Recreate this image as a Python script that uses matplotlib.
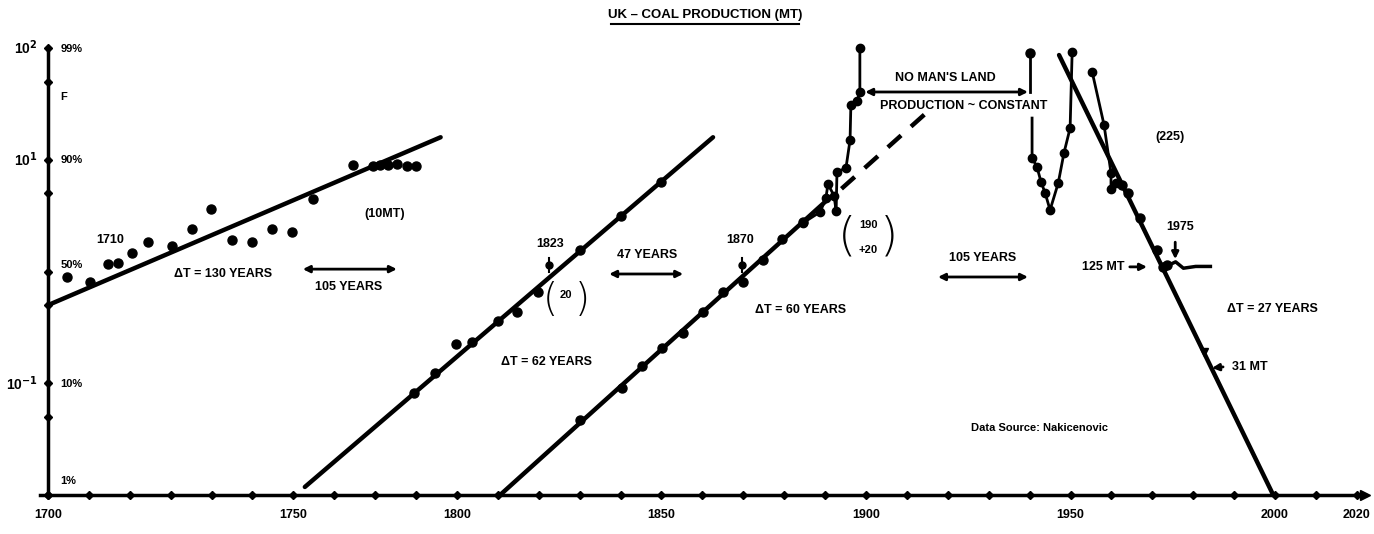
import matplotlib
matplotlib.use("Agg")
import matplotlib.pyplot as plt
from matplotlib.lines import Line2D
from matplotlib import font_manager

# ---------------------------------------------------------------
# UK coal production, Fisher-Pry plot: F/(1-F) on a log scale
# ---------------------------------------------------------------

# Phase 1: early growth (data points and fitted trend)
early_years = [1704.6, 1710.3, 1714.7, 1717.1, 1720.5, 1724.4, 1730.3, 1735.2,
               1739.9, 1745.0, 1749.9, 1754.8, 1759.7, 1764.8, 1774.6, 1779.5,
               1781.2, 1783.1, 1785.3, 1787.8, 1790.0]
early_vals = [0.90, 0.80, 1.16, 1.20, 1.45, 1.82, 1.68, 2.38, 3.60, 1.90, 1.82,
              2.38, 2.24, 4.43, 8.9, 8.75, 8.9, 8.9, 9.1, 8.75, 8.75]
early_fit_years = [1700.0, 1796.0]
early_fit_vals = [0.50, 15.9]

# Phase 2
second_years = [1789.5, 1794.6, 1799.8, 1803.7, 1810.0, 1814.7, 1819.8,
                1830.1, 1840.1, 1849.9]
second_vals = [0.081, 0.124, 0.226, 0.236, 0.364, 0.438, 0.662, 1.57, 3.11, 6.28]
second_fit_years = [1762.8, 1862.6]
second_fit_vals = [0.0118, 15.9]

# Phase 3
third_years = [1830.1, 1840.3, 1845.2, 1850.1, 1855.3, 1860.1, 1865.0,
               1869.9, 1874.8, 1879.5, 1884.6]
third_vals = [0.047, 0.091, 0.144, 0.208, 0.284, 0.438, 0.662, 0.813, 1.28,
              1.94, 2.75]
third_fit_years = [1810.0, 1890.0]
third_fit_vals = [0.0096, 4.2]
third_ext_years = [1894.0, 1914.4]
third_ext_vals = [5.5, 25.6]

# Turn of the century: production leaves the trend
peak_years = [1884.6, 1888.8, 1890.2, 1890.7, 1892.2, 1892.7, 1892.9, 1895.1,
              1896.1, 1896.3, 1897.8, 1898.5, 1898.5]
peak_vals = [2.72, 3.41, 4.55, 6.07, 4.74, 3.48, 7.77, 8.44, 15.0, 30.9, 33.6,
             40.4, 100.0]

# Plateau marker ("no man's land")
plateau_years = [1899.8, 1939.6]
plateau_val = 40.4

# 1940s swing
war_top_years = [1940.1, 1940.1]
war_top_vals = [40.4, 90.0]
war_years = [1940.6, 1940.6, 1941.8, 1942.8, 1943.8, 1945.0, 1947.0, 1948.4,
             1949.9, 1950.4]
war_vals = [23.6, 10.4, 8.61, 6.32, 5.04, 3.55, 6.19, 11.5, 19.2, 92.0]

# Decline phase
decline_fit_years = [1947.2, 1999.8]
decline_fit_vals = [86.5, 0.0096]
postwar_years = [1955.3, 1958.2, 1959.9, 1959.9, 1961.1]
postwar_vals = [61.0, 20.5, 7.61, 5.47, 6.19]
decline_years = [1962.6, 1964.1, 1967.0, 1971.1, 1972.6, 1973.6]
decline_vals = [5.94, 5.04, 3.01, 1.56, 1.10, 1.14]
recent_years = [1974.0, 1975.7, 1977.6, 1980.6, 1984.2]
recent_vals = [1.14, 1.22, 1.07, 1.11, 1.11]

# Axis tick labels
xtick_pos = [1700, 1760, 1800, 1850, 1900, 1950, 2000, 2020]
xtick_labels = ["1700", "1750", "1800", "1850", "1900", "1950", "2000", "2020"]
ytick_marks = [100, 50, 10, 5, 1, 0.5, 0.1, 0.05, 0.01]
ylabels_left = [(100, "10$^2$"), (10, "10$^1$"), (0.1, "10$^{-1}$")]
ylabels_right = [(98, "99%"), (36.4, "F"), (9.95, "90%"), (1.14, "50%"),
                 (0.0985, "10%"), (0.0133, "1%")]

# ---------------------------------------------------------------
names = {f.name for f in font_manager.fontManager.ttflist}
main_font = "DejaVu Sans"
for cand in ("Liberation Sans Narrow", "Liberation Sans"):
    if cand in names:
        main_font = cand
        break
plt.rcParams["font.family"] = [main_font, "DejaVu Sans"]
plt.rcParams["font.weight"] = "bold"
plt.rcParams["mathtext.default"] = "bf"

W, H = 1374, 534
fig = plt.figure(figsize=(W / 100, H / 100), dpi=100)
ax = fig.add_axes([39.8 / W, 39 / H, 1325.2 / W, 447 / H])
ax.set_yscale("log")
ax.set_xlim(1698, 2022)
ax.set_ylim(0.01, 100)

for s in ("top", "right"):
    ax.spines[s].set_visible(False)
ax.spines["left"].set_position(("data", 1700))
ax.spines["left"].set_linewidth(2.5)
ax.spines["bottom"].set_linewidth(2.5)
ax.tick_params(which="both", length=0, left=False, labelleft=False)
ax.yaxis.set_minor_locator(matplotlib.ticker.NullLocator())
ax.set_xticks(xtick_pos, xtick_labels)
ax.tick_params(axis="x", pad=10, labelsize=9)

# tick marks drawn as small diamonds on the axes
ax.plot(range(1700, 2021, 10), [0.01] * 33, "D", color="k", ms=4, clip_on=False)
ax.plot([1700] * len(ytick_marks), ytick_marks, "D", color="k", ms=4, clip_on=False)
ax.plot([2022], [0.01], ">", color="k", ms=7, clip_on=False)

for v, t in ylabels_left:
    ax.text(1697.5, v, t, ha="right", va="center", fontsize=10, clip_on=False)
for v, t in ylabels_right:
    ax.text(1703, v, t, ha="left", va="center", fontsize=8)

kw_fit = dict(color="k", lw=3.2, solid_capstyle="round")
kw_pts = dict(color="k", ls="none", marker="o", ms=6.5, clip_on=False)

# Phase 1
ax.plot(early_fit_years, early_fit_vals, **kw_fit)
ax.plot(early_years, early_vals, **kw_pts)
# Phase 2
ax.plot(second_fit_years, second_fit_vals, **kw_fit)
ax.plot(second_years, second_vals, **kw_pts)
# Phase 3
ax.plot(third_fit_years, third_fit_vals, **kw_fit)
ax.plot(third_ext_years, third_ext_vals, color="k", lw=3.2, ls=(0, (4, 3)))
ax.plot(third_years, third_vals, **kw_pts)
# Peak around 1900
ax.plot(peak_years, peak_vals, color="k", lw=2, marker="o", ms=6, clip_on=False)
# 1940s
ax.plot(war_top_years, war_top_vals, color="k", lw=2)
ax.plot([war_top_years[1]], [war_top_vals[1]], **kw_pts)
ax.plot(war_years, war_vals, color="k", lw=2, marker="o", ms=6,
        markevery=list(range(1, len(war_years))), clip_on=False)
# Decline
ax.plot(decline_fit_years, decline_fit_vals, **kw_fit)
ax.plot(postwar_years, postwar_vals, color="k", lw=2, marker="o", ms=6)
ax.plot(decline_years, decline_vals, **kw_pts)
ax.plot(recent_years, recent_vals, color="k", lw=2.5)

# marker stubs for 1823 and 1870
for yr in (1822.5, 1869.7):
    ax.plot([yr], [1.14], "o", color="k", ms=5)
    ax.plot([yr, yr], [1.0, 1.32], color="k", lw=1.5)

# small arrowhead on decline line
ax.plot([1982.6], [10 ** (1.937 - (1982.6 - 1947.2) * 3.955 / 52.6)], "v", color="k", ms=6)

def darrow(x0, x1, y):
    ax.annotate("", xy=(x1, y), xytext=(x0, y),
                arrowprops=dict(arrowstyle="<|-|>", color="k", lw=2,
                                mutation_scale=10, shrinkA=0, shrinkB=0))

def arrow(x0, y0, x1, y1):
    ax.annotate("", xy=(x1, y1), xytext=(x0, y0),
                arrowprops=dict(arrowstyle="-|>", color="k", lw=2,
                                mutation_scale=10, shrinkA=0, shrinkB=0))

fs = 9
darrow(1762.3, 1785.3, 1.05)
darrow(1837.2, 1855.3, 0.95)
darrow(1917.6, 1939.6, 0.893)
darrow(1899.8, 1939.6, plateau_val)
arrow(1975.6, 1.83, 1975.6, 1.29)
arrow(1964.5, 1.10, 1968.7, 1.10)
arrow(1987.3, 0.140, 1984.6, 0.137)

ax.text(1715.2, 1.91, "1710", ha="center", va="center", fontsize=fs)
ax.text(1742.8, 0.95, "ΔT = 130 YEARS", ha="center", va="center", fontsize=fs)
ax.text(1773.6, 0.73, "105 YEARS", ha="center", va="center", fontsize=fs)
ax.text(1782.4, 3.27, "(10MT)", ha="center", va="center", fontsize=fs)
ax.text(1822.7, 1.76, "1823", ha="center", va="center", fontsize=fs)
ax.text(1822.0, 0.155, "ΔT = 62 YEARS", ha="center", va="center", fontsize=fs)
ax.text(1846.5, 1.41, "47 YEARS", ha="center", va="center", fontsize=fs)
ax.text(1869.2, 1.91, "1870", ha="center", va="center", fontsize=fs)
ax.text(1883.9, 0.452, "ΔT = 60 YEARS", ha="center", va="center", fontsize=fs)
ax.text(1919.3, 54, "NO MAN'S LAND", ha="center", va="center", fontsize=fs)
ax.text(1924.0, 30.3, "PRODUCTION ~ CONSTANT", ha="center", va="center", fontsize=fs)
ax.text(1928.6, 1.32, "105 YEARS", ha="center", va="center", fontsize=fs)
ax.text(1974.3, 16.0, "(225)", ha="center", va="center", fontsize=fs)
ax.text(1976.8, 2.50, "1975", ha="center", va="center", fontsize=fs)
ax.text(1963.3, 1.10, "125 MT", ha="right", va="center", fontsize=fs)
ax.text(1999.3, 0.461, "ΔT = 27 YEARS", ha="center", va="center", fontsize=fs)
ax.text(1989.5, 0.140, "31 MT", ha="left", va="center", fontsize=fs)
ax.text(1942.5, 0.0398, "Data Source: Nakicenovic", ha="center", va="center", fontsize=8)

# bracketed annotations
ax.text(1822.8, 0.556, "(", ha="center", va="center", fontsize=28, fontweight="light", family="DejaVu Sans")
ax.text(1826.6, 0.62, "20", ha="center", va="center", fontsize=8)
ax.text(1830.6, 0.556, ")", ha="center", va="center", fontsize=28, fontweight="light", family="DejaVu Sans")
ax.text(1895.4, 2.04, "(", ha="center", va="center", fontsize=34, fontweight="light", family="DejaVu Sans")
ax.text(1900.5, 2.61, "190", ha="center", va="center", fontsize=8)
ax.text(1900.5, 1.56, "+20", ha="center", va="center", fontsize=8)
ax.text(1905.6, 2.04, ")", ha="center", va="center", fontsize=34, fontweight="light", family="DejaVu Sans")

# title with underline
fig.text(705 / W, 1 - 15 / H, "UK – COAL PRODUCTION (MT)", ha="center", va="center", fontsize=9.5)
fig.add_artist(Line2D([611 / W, 799 / W], [1 - 24 / H, 1 - 24 / H], color="k", lw=1.5))

fig.savefig("out.png", dpi=100, facecolor="white")
